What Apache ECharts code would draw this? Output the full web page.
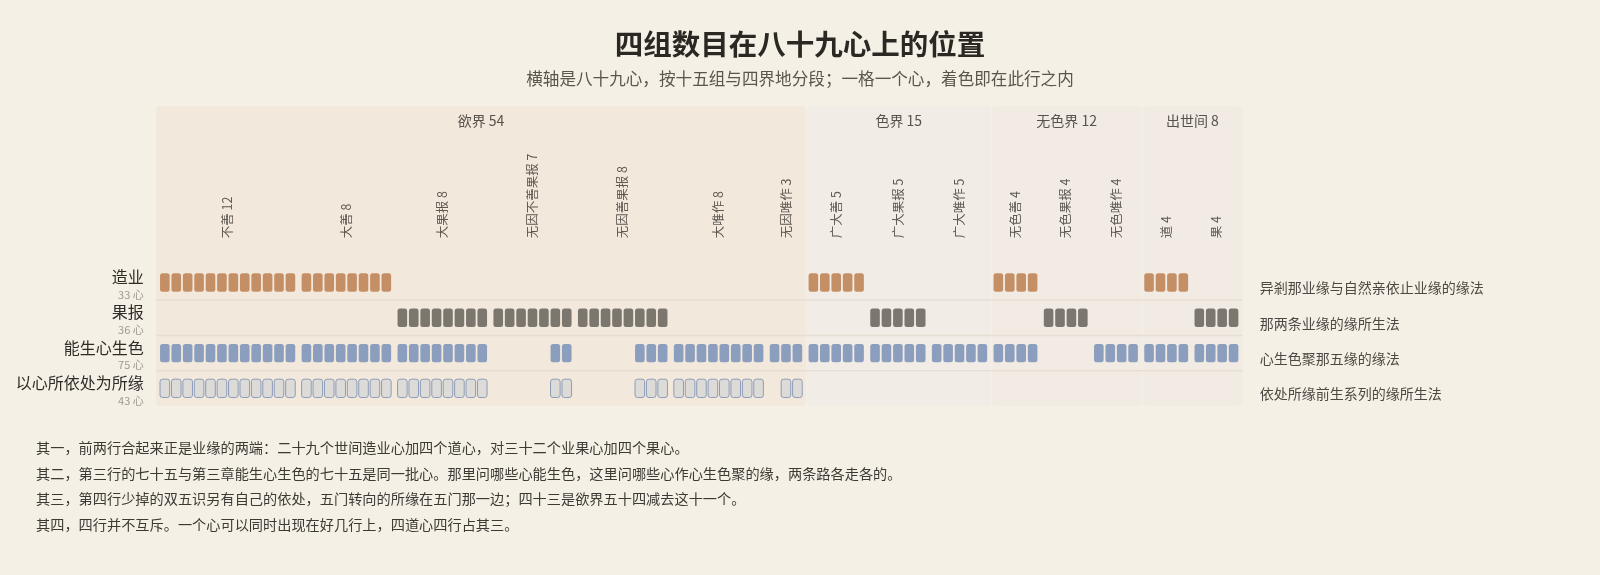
<!DOCTYPE html>
<html>
<head>
<meta charset="utf-8">
<title>四组数目在八十九心上的位置</title>
<script src="https://cdn.jsdelivr.net/npm/echarts@6/dist/echarts.min.js"></script>
<style>
  html, body { margin: 0; padding: 0; background: #f5f0e6; }
  #chart { width: 1600px; height: 575px; }
</style>
</head>
<body>
<div id="chart"></div>
<script>
// 十五组，按四界地排列
const groupNames = ['不善', '大善', '大果报', '无因不善果报', '无因善果报', '大唯作', '无因唯作',
  '广大善', '广大果报', '广大唯作', '无色善', '无色果报', '无色唯作', '道', '果']
const groupSizes = [12, 8, 8, 7, 8, 8, 3, 5, 5, 5, 4, 4, 4, 4, 4]

const realmNames = ['欲界', '色界', '无色界', '出世间']
const realmGroupCounts = [7, 3, 3, 2]

// 四行
const rowNames = ['造业', '果报', '能生心生色', '以心所依处为所缘']
const rowCounts = [33, 36, 75, 43]
const rowNotes = ['异剎那业缘与自然亲依止业缘的缘法', '那两条业缘的缘所生法', '心生色聚那五缘的缘法', '依处所缘前生系列的缘所生法']

// 每行每组的着色格（1 = 在此行之内），顺序同 groupNames
const rowKamma = ['111111111111', '11111111', '00000000', '0000000', '00000000', '00000000', '000',
  '11111', '00000', '00000', '1111', '0000', '0000', '1111', '0000']
const rowVipaka = ['000000000000', '00000000', '11111111', '1111111', '11111111', '00000000', '000',
  '00000', '11111', '00000', '0000', '1111', '0000', '0000', '1111']
const rowRupa = ['111111111111', '11111111', '11111111', '0000011', '00000111', '11111111', '111',
  '11111', '11111', '11111', '1111', '0000', '1111', '1111', '1111']
const rowVatthu = ['111111111111', '11111111', '11111111', '0000011', '00000111', '11111111', '011',
  '00000', '00000', '00000', '0000', '0000', '0000', '0000', '0000']

const notes = [
  '其一，前两行合起来正是业缘的两端：二十九个世间造业心加四个道心，对三十二个业果心加四个果心。',
  '其二，第三行的七十五与第三章能生心生色的七十五是同一批心。那里问哪些心能生色，这里问哪些心作心生色聚的缘，两条路各走各的。',
  '其三，第四行少掉的双五识另有自己的依处，五门转向的所缘在五门那一边；四十三是欲界五十四减去这十一个。',
  '其四，四行并不互斥。一个心可以同时出现在好几行上，四道心四行占其三。'
]

const FONT = '"Noto Sans CJK SC", "Noto Sans", sans-serif'
const GROUP_GAP = 0.4   // 组与组之间多空出的格数
const X_MIN = -0.3
const X_MAX = 94.9
const Y_MIN = -5
const Y_MAX = 3.5

// 每一格在横轴上的位置
const cellPos = []
const groupStart = []
let k = 0
groupSizes.forEach((n, g) => {
  groupStart.push(k)
  for (let i = 0; i < n; i++) {
    cellPos.push(k + GROUP_GAP * g + 0.5)
    k++
  }
})

const groupData = groupNames.map((name, g) => {
  const first = cellPos[groupStart[g]]
  const last = cellPos[groupStart[g] + groupSizes[g] - 1]
  return [(first + last) / 2, -1.25, name + ' ' + groupSizes[g]]
})

// 界地底色：每一界从本界第一格左边一点开始，到下一界开始为止
const realmStarts = []
let gi = 0
realmNames.forEach((name, r) => {
  realmStarts.push(r === 0 ? X_MIN : cellPos[groupStart[gi]] - 0.62)
  gi += realmGroupCounts[r]
})
const realmData = []
gi = 0
realmNames.forEach((name, r) => {
  let total = 0
  for (let g = gi; g < gi + realmGroupCounts[r]; g++) total += groupSizes[g]
  const end = r === realmNames.length - 1 ? X_MAX : realmStarts[r + 1]
  realmData.push([realmStarts[r], end, r, name + ' ' + total])
  gi += realmGroupCounts[r]
})

const buildRow = (mask, row) => {
  const out = []
  let idx = 0
  mask.forEach(str => {
    for (const ch of str) {
      if (ch === '1') out.push([cellPos[idx], row])
      idx++
    }
  })
  return out
}

const cellItem = (fill, stroke) => (params, api) => {
  const c = api.coord([api.value(0), api.value(1)])
  const s = api.size([0.84, 0.52])
  return {
    type: 'rect',
    shape: { x: c[0] - s[0] / 2, y: c[1] - s[1] / 2, width: s[0], height: s[1], r: 2.5 },
    style: { fill: fill, stroke: stroke, lineWidth: stroke ? 1 : 0 }
  }
}

const rowSeries = [
  { name: rowNames[0], data: buildRow(rowKamma, 0), fill: '#c58f66', stroke: null },
  { name: rowNames[1], data: buildRow(rowVipaka, 1), fill: '#7b776f', stroke: null },
  { name: rowNames[2], data: buildRow(rowRupa, 2), fill: '#8b9ebd', stroke: null },
  { name: rowNames[3], data: buildRow(rowVatthu, 3), fill: '#dddbd7', stroke: '#8d9cb8' }
]

const bandColors = ['#f2e8dc', '#f1ece5', '#f1ebe4', '#f1ebe4']

const option = {
  backgroundColor: '#f5f0e6',
  animation: false,
  title: [
    {
      text: '四组数目在八十九心上的位置',
      left: 'center', top: 25,
      textStyle: { fontFamily: FONT, fontSize: 28.5, fontWeight: 'bold', color: '#2b2824' }
    },
    {
      text: '横轴是八十九心，按十五组与四界地分段；一格一个心，着色即在此行之内',
      left: 'center', top: 65,
      textStyle: { fontFamily: FONT, fontSize: 16.6, fontWeight: 'normal', color: '#5a554e' }
    }
  ],
  grid: { left: 155.7, right: 357.3, top: 106, bottom: 169 },
  xAxis: { type: 'value', min: X_MIN, max: X_MAX, show: false },
  yAxis: [
    {
      type: 'value', inverse: true, min: Y_MIN, max: Y_MAX, interval: 1,
      axisLine: { show: false }, axisTick: { show: false }, splitLine: { show: false },
      axisLabel: {
        margin: 12,
        formatter: v => (v >= 0 && v < rowNames.length) ? `{p| }\n{n|${rowNames[v]}}\n{c|${rowCounts[v]} 心}` : '',
        rich: {
          p: { fontSize: 4, lineHeight: 6 },
          n: { fontFamily: FONT, fontSize: 16, color: '#2f2b27', align: 'right', lineHeight: 18 },
          c: { fontFamily: FONT, fontSize: 11, color: '#a09a91', align: 'right', lineHeight: 17 }
        }
      }
    },
    {
      type: 'value', inverse: true, min: Y_MIN, max: Y_MAX, interval: 1, position: 'right',
      axisLine: { show: false }, axisTick: { show: false }, splitLine: { show: false },
      axisLabel: {
        margin: 17,
        verticalAlign: 'top',
        lineHeight: 11,
        fontFamily: FONT, fontSize: 14, color: '#4d4843',
        formatter: v => (v >= 0 && v < rowNotes.length) ? rowNotes[v] : ''
      }
    }
  ],
  graphic: notes.map((t, i) => ({
    type: 'text',
    left: 36,
    top: 441 + i * 25.5,
    style: { text: t, font: '14.2px ' + FONT, fill: '#3d3a35' }
  })),
  series: [
    {
      name: '界地',
      type: 'custom',
      z: 1,
      silent: true,
      data: realmData,
      renderItem: (params, api) => {
        const p1 = api.coord([api.value(0), Y_MIN])
        const p2 = api.coord([api.value(1), Y_MAX])
        const r = api.value(2)
        const lab = api.coord([(api.value(0) + api.value(1)) / 2, -4.58])
        return {
          type: 'group',
          children: [
            {
              type: 'rect',
              shape: { x: p1[0] + 0.5, y: p1[1], width: p2[0] - p1[0] - 1, height: p2[1] - p1[1], r: 4 },
              style: { fill: bandColors[r] }
            },
            {
              type: 'text',
              x: lab[0], y: lab[1],
              style: { text: realmData[params.dataIndex][3], font: '14px ' + FONT, fill: '#57524b', align: 'center', verticalAlign: 'middle' }
            }
          ]
        }
      }
    },
    {
      name: '行线',
      type: 'custom',
      z: 2,
      silent: true,
      data: [0.5, 1.5, 2.5].map(y => [y]),
      renderItem: (params, api) => {
        const a = api.coord([X_MIN, api.value(0)])
        const b = api.coord([X_MAX, api.value(0)])
        return {
          type: 'line',
          shape: { x1: a[0], y1: a[1], x2: b[0], y2: b[1] },
          style: { stroke: '#e7dfd3', lineWidth: 1.5 }
        }
      }
    },
    {
      name: '组名',
      type: 'custom',
      z: 3,
      silent: true,
      data: groupData,
      renderItem: (params, api) => {
        const p = api.coord([api.value(0), api.value(1)])
        return {
          type: 'text',
          x: p[0], y: p[1],
          rotation: Math.PI / 2,
          style: { text: groupData[params.dataIndex][2], font: '12.5px ' + FONT, fill: '#5e5952', align: 'left', verticalAlign: 'middle' }
        }
      }
    },
    ...rowSeries.map(s => ({
      name: s.name,
      type: 'custom',
      z: 4,
      silent: true,
      data: s.data,
      renderItem: cellItem(s.fill, s.stroke)
    }))
  ]
}

const chart = echarts.init(document.getElementById('chart'))
chart.setOption(option)
</script>
</body>
</html>
